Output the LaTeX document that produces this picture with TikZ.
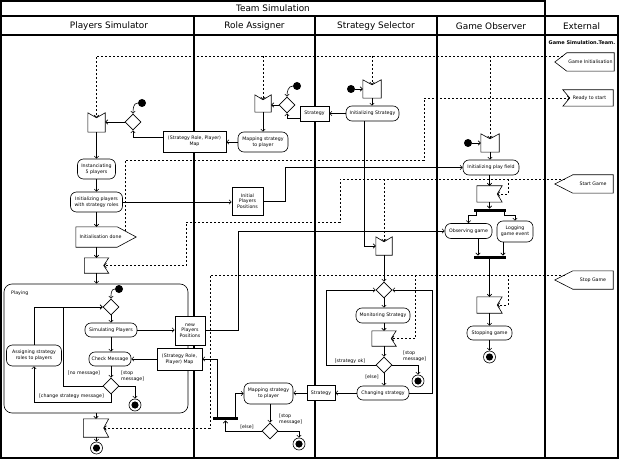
\documentclass[tikz,border=0pt]{standalone}
\usepackage{fontspec}
\setmainfont{DejaVu Sans}
\usetikzlibrary{arrows.meta,calc,shapes.geometric}
\newcommand\smfnt{\fontsize{4.7}{5.6}\selectfont}
\newcommand\ttlfnt{\fontsize{8.9}{10}\selectfont}
\newcommand\accTop[2][5]{\draw[shp] (#2.north west) -- ($(#2.north)+(0,#1)$) coordinate (#2-n) -- (#2.north east) -- (#2.south east) -- (#2.south west) -- cycle;}
\newcommand\accRight[2][5]{\draw[shp] (#2.north west) -- (#2.north east) -- ($(#2.east)+(-#1,0)$) coordinate (#2-n) -- (#2.south east) -- (#2.south west) -- cycle;}
\newcommand\accLeft[2][7]{\draw[shp] (#2.north west) -- (#2.north east) -- (#2.south east) -- (#2.south west) -- ($(#2.west)+(#1,0)$) coordinate (#2-n) -- cycle;}
\newcommand\sendLeft[2][18]{\draw[shp] (#2.north west) -- (#2.north east) -- (#2.south east) -- (#2.south west) -- ($(#2.west)+(-#1,0)$) coordinate (#2-t) -- cycle;}
\newcommand\sendRight[2][18]{\draw[shp] (#2.north west) -- (#2.north east) -- ($(#2.east)+(#1,0)$) coordinate (#2-t) -- (#2.south east) -- (#2.south west) -- cycle;}
\begin{document}
\begin{tikzpicture}[x=1pt,y=-1pt,
  shp/.style={line width=0.6pt},
  act/.style={draw, fill=white, line width=0.6pt, rounded corners=6pt, align=center, inner sep=0pt, font=\smfnt},
  obj/.style={draw, fill=white, line width=0.6pt, align=center, inner sep=0pt, font=\smfnt},
  sgn/.style={inner sep=0pt, font=\smfnt, align=center},
  dec/.style={draw, fill=white, line width=0.6pt, diamond, inner sep=0pt, minimum width=16pt, minimum height=16pt},
  ini/.style={circle, fill, inner sep=0pt, minimum size=8pt},
  fin/.style={circle, draw, line width=0.6pt, inner sep=0pt, minimum size=12pt, path picture={\fill (path picture bounding box.center) circle (3.6pt);}},
  bar/.style={fill, inner sep=0pt, minimum height=3.5pt},
  flow/.style={line width=0.6pt, -{Straight Barb[length=2.2pt,width=4.4pt]}},
  sig/.style={flow, dash pattern=on 2pt off 2pt},
  guard/.style={font=\smfnt, inner sep=0pt, align=left},
  frame/.style={line width=1.2pt},
  ttl/.style={font=\ttlfnt, inner sep=0pt}
]
\fill[white] (0,0) rectangle (620,462);
\useasboundingbox (0,0) rectangle (620,462);

% frame
\draw[frame] (1,1) rectangle (545,458);
\draw[frame] (1,16) -- (618,16);
\draw[frame] (1,35) -- (618,35);
\draw[frame] (545,16) -- (618,16) -- (618,458) -- (545,458);
\foreach \x in {194,315,437} \draw[frame] (\x,16) -- (\x,458);
\node[ttl] (tTeam) at (273,8.5) {Team Simulation};
\node[ttl] (tPS) at (109,26) {Players Simulator};
\node[ttl] (tRA) at (254.5,26) {Role Assigner};
\node[ttl] (tSS) at (376,26) {Strategy Selector};
\node[ttl] (tGO) at (491,26) {Game Observer};
\node[ttl] (tEx) at (581.5,26) {External};

% Players Simulator
\node[ini] (psIni) at (142,103) {};
\node[dec] (psDec) at (133,122) {};
\node[sgn, minimum width=17pt, minimum height=19pt] (psAcc) at (96.5,122.5) {}; \accTop{psAcc}
\node[act, minimum width=38pt, minimum height=20pt] (psInst) at (96.5,169) {Instanciating\\5 players};
\node[act, minimum width=52pt, minimum height=20pt] (psInitP) at (96.5,202) {Initializing players\\with strategy roles};
\node[sgn, minimum width=41pt, minimum height=20pt, label={[font=\smfnt,xshift=4pt]center:Initialisation done}] (psDone) at (96.5,237) {}; \sendRight[19]{psDone}
\node[sgn, minimum width=24pt, minimum height=15pt] (psAcc2) at (96.5,265.5) {}; \accRight{psAcc2}
\node[draw, line width=0.6pt, rounded corners=8pt, minimum width=184pt, minimum height=129pt, inner sep=0pt] (playing) at (96,348.5) {};
\node[guard, anchor=west] (tPlaying) at (11,293) {Playing};
\node[ini] (plIni) at (119,289) {};
\node[dec] (plDec1) at (111,307) {};
\node[act, minimum width=52pt, minimum height=14pt] (plSim) at (111,330) {Simulating Players};
\node[act, minimum width=42pt, minimum height=14pt] (plChk) at (110,359) {Check Message};
\node[dec] (plDec2) at (111,386) {};
\node[fin] (plFin) at (135,405) {};
\node[act, minimum width=55pt, minimum height=21pt] (plAssign) at (34,355.5) {Assigning strategy\\roles to players};
\node[obj, minimum width=30pt, minimum height=29pt] (newPos) at (190,330.5) {new\\Players\\Positions};
\node[obj, minimum width=45pt, minimum height=22pt] (map2) at (179.5,359) {(Strategy Role,\\Player) Map};
\node[sgn, minimum width=25pt, minimum height=18pt] (psAcc3) at (96,428) {}; \accRight{psAcc3}
\node[fin] (psFin) at (96.5,448) {};

% Role Assigner
\node[obj, minimum width=63pt, minimum height=21pt] (map1) at (194.5,141.5) {(Strategy Role, Player)\\Map};
\node[act, minimum width=50pt, minimum height=20pt] (raMap) at (263,142) {Mapping strategy\\to player};
\node[sgn, minimum width=16pt, minimum height=17pt] (raAcc) at (263,103.5) {}; \accTop{raAcc}
\node[dec] (raDec) at (287,105) {};
\node[ini] (raIni) at (297,86) {};
\node[obj, minimum width=29pt, minimum height=15pt] (strat1) at (314.5,113.5) {Strategy};
\node[obj, minimum width=31pt, minimum height=28pt] (initPos) at (247.5,201) {Initial\\Players\\Positions};
\node[bar, minimum width=25pt] (bar2) at (225.5,418.5) {};
\node[act, minimum width=49pt, minimum height=21pt] (raMap2) at (268.5,393.5) {Mapping strategy\\to player};
\node[dec] (raDec2) at (270,431) {};
\node[fin] (raFin) at (299,444) {};
\node[obj, minimum width=28pt, minimum height=15pt] (strat2) at (321,393) {Strategy};

% Strategy Selector
\node[ini] (ssIni) at (351,89) {};
\node[sgn, minimum width=18pt, minimum height=18pt] (ssAcc) at (372,89) {}; \accTop{ssAcc}
\node[act, minimum width=53pt, minimum height=15pt] (ssInit) at (372.5,113.5) {Initializing Strategy};
\node[sgn, minimum width=16pt, minimum height=18pt] (ssAcc2) at (384,246) {}; \accTop{ssAcc2}
\node[dec] (ssDec1) at (384,290) {};
\node[act, minimum width=54pt, minimum height=15pt] (ssMon) at (383,315.5) {Monitoring Strategy};
\node[sgn, minimum width=24pt, minimum height=15pt] (ssAcc3) at (384,338.5) {}; \accRight{ssAcc3}
\node[dec] (ssDec2) at (384,365) {};
\node[fin] (ssFin) at (418,381) {};
\node[act, minimum width=52pt, minimum height=14pt] (ssChg) at (383,393) {Changing strategy};

% Game Observer
\node[ini] (goIni) at (468,143) {};
\node[sgn, minimum width=18pt, minimum height=18pt] (goAcc) at (490,143) {}; \accTop{goAcc}
\node[act, minimum width=56pt, minimum height=15pt] (goInitPF) at (491,167.5) {Initializing play field};
\node[sgn, minimum width=25pt, minimum height=16pt] (goAcc2) at (489.5,194) {}; \accRight{goAcc2}
\node[bar, minimum width=32pt] (fork) at (490,210.5) {};
\node[act, minimum width=47pt, minimum height=15pt] (goObs) at (468.5,231) {Observing game};
\node[act, minimum width=36pt, minimum height=21pt] (goLog) at (515,231.5) {Logging\\game event};
\node[bar, minimum width=32pt] (join) at (490,257.5) {};
\node[sgn, minimum width=25pt, minimum height=16pt] (goAcc3) at (489.5,305) {}; \accRight{goAcc3}
\node[act, minimum width=45pt, minimum height=14pt] (goStop) at (489.5,333) {Stopping game};
\node[fin] (goFin) at (489.5,357) {};

% External
\node[font=\fontsize{5}{6}\selectfont\bfseries, inner sep=0pt] (tGST) at (582,43) {Game Simulation.Team.};
\node[sgn, minimum width=47pt, minimum height=18pt] (gameInit) at (590.5,62) {Game Initialisation}; \sendLeft[12]{gameInit}
\node[sgn, minimum width=50pt, minimum height=16pt] (ready) at (588,98) {\hspace*{3pt}Ready to start}; \accLeft[7]{ready}
\node[sgn, minimum width=40pt, minimum height=18pt] (startG) at (593,184) {Start Game}; \sendLeft[18]{startG}
\node[sgn, minimum width=40pt, minimum height=18pt] (stopG) at (593,280) {Stop Game}; \sendLeft[18]{stopG}

% signal connectors (dashed)
\coordinate (giE) at ($(gameInit.north west)!0.33!(gameInit-t)$);
\draw[sig] (giE) -| (psAcc-n);
\draw[sig] (raAcc-n |- giE) -- (raAcc-n);
\draw[sig] (ssAcc-n |- giE) -- (ssAcc-n);
\draw[sig] (goAcc-n |- giE) -- (goAcc-n);

\coordinate (pdE) at ($(psDone.north east)!0.44!(psDone-t)$);
\coordinate (rA) at (424,160);
\draw[sig] (pdE) |- (rA) |- (ready-n);

\coordinate (sgE) at ($(startG.north west)!0.44!(startG-t)$);
\coordinate (sA) at (340,222);
\coordinate (sB) at (186,222);
\draw[sig] (sgE) -| (sA) -- (sB) |- (psAcc2-n);
\draw[sig] (ssAcc2-n |- sgE) -- (ssAcc2-n);
\coordinate (sC) at (508,179);
\draw[sig] (sC) |- (goAcc2-n);

\coordinate (stE) at ($(stopG.north west)!0.44!(stopG-t)$);
\coordinate (tA) at (210,428);
\draw[sig] (stE) -| (tA) -- (psAcc3-n);
\coordinate (tB) at (415,275);
\draw[sig] (tB) |- (ssAcc3-n);
\coordinate (tC) at (508,275);
\draw[sig] (tC) |- (goAcc3-n);

% Players Simulator flows
\draw[flow] (psIni.west) to[out=180,in=90] (psDec.north);
\draw[flow] (psDec.west) -- (psDec.west -| psAcc.east);
\coordinate (m1) at ($(map1.west)+(0,-4.5)$);
\draw[flow] (m1) -| (psDec.south);
\draw[flow] (raMap.west) -- (raMap.west -| map1.east);
\draw[flow] (psAcc.south) -- (psInst.north);
\draw[flow] (psInst.south) -- (psInitP.north);
\draw[flow] (psInitP.south) -- (psInitP.south |- psDone.north);
\draw[flow] (psDone.south -| psAcc2.north) -- (psAcc2.north);
\draw[flow] (psAcc2.south) -- (psAcc2.south |- playing.north);
\draw[flow] (psAcc3.north |- playing.south) -- (psAcc3.north);
\draw[flow] (psAcc3.south) -- (psAcc3.south -| psFin.north) -- (psFin.north);
\draw[flow] (psInitP.east) -- (psInitP.east -| initPos.west);
\draw[flow] (initPos.east) -- ++(22,0) |- (goInitPF.west);

\draw[flow] (plIni.west) to[out=180,in=90] (plDec1.north);
\draw[flow] (plDec1.south) -- (plSim.north);
\draw[flow] (plSim.south) -- (plSim.south |- plChk.north);
\draw[flow] (plDec2.north |- plChk.south) -- (plDec2.north);
\draw[flow] (plDec2.east) -| (plFin.north);
\draw[flow] (plDec2.west) -- ++(-39,0) |- (plDec1.west);
\draw[flow] (plDec2.south) -- ++(0,8) -| (plAssign.south);
\draw[flow] (plAssign.north) |- (plDec1.west);
\draw[flow] (plSim.east) -- (plSim.east -| newPos.west);
\draw[flow] (newPos.east) -- ++(33,0) |- (goObs.west);
\draw[flow] (map2.west) -- (map2.west -| plChk.east);

% Role Assigner flows
\draw[flow] (raIni.west) to[out=180,in=90] (raDec.north);
\draw[flow] (raDec.west) -- (raDec.west -| raAcc.east);
\coordinate (s1) at ($(strat1.west)+(0,4.5)$);
\draw[flow] (s1) -| (raDec.south);
\draw[flow] (raAcc.south) -- (raMap.north);
\draw[flow] (raDec2.north |- raMap2.south) -- (raDec2.north);
\draw[flow] (raDec2.east) -| (raFin.north);
\draw[flow] (raDec2.west) -| (bar2.south);
\coordinate (b2r) at ($(bar2.north)+(9.5,0)$);
\draw[flow] (b2r) |- (raMap2.west);
\coordinate (b2l) at ($(bar2.north)+(-8.5,0)$);
\draw[flow] (b2l) |- (map2.east);
\draw[flow] (strat2.west) -- (strat2.west -| raMap2.east);

% Strategy Selector flows
\draw[flow] (ssIni.east) -- (ssAcc.west);
\draw[flow] (ssAcc.south) -- (ssAcc.south |- ssInit.north);
\draw[flow] (ssInit.west) -- (ssInit.west -| strat1.east);
\coordinate (s2) at ($(ssInit.south)+(-8.5,0)$);
\draw[flow] (s2) |- (ssAcc2.west);
\draw[flow] (ssAcc2.south) -- (ssDec1.north);
\draw[flow] (ssDec1.south) -- (ssDec1.south |- ssMon.north);
\draw[flow] (ssMon.south -| ssAcc3.north) -- (ssAcc3.north);
\draw[flow] (ssAcc3.south) -- (ssDec2.north);
\draw[flow] (ssDec2.south) -- (ssDec2.south |- ssChg.north);
\draw[flow] (ssDec2.east) -| (ssFin.north);
\draw[flow] (ssDec2.west) -- ++(-49,0) |- (ssDec1.west);
\draw[flow] (ssChg.east) -- ++(23,0) |- (ssDec1.east);
\draw[flow] (ssChg.west) -- (ssChg.west -| strat2.east);

% Game Observer flows
\draw[flow] (goIni.east) -- (goAcc.west);
\draw[flow] (goAcc.south) -- (goAcc.south |- goInitPF.north);
\draw[flow] (goInitPF.south -| goAcc2.north) -- (goAcc2.north);
\draw[flow] (goAcc2.south) -- (goAcc2.south |- fork.north);
\coordinate (fl) at ($(fork.south)+(-14,0)$);
\draw[flow] (fl) -- ++(0,3) -| (goObs.north);
\coordinate (fr) at ($(fork.south)+(14,0)$);
\draw[flow] (fr) -- ++(0,3) -| (goLog.north);
\coordinate (oj) at ($(goObs.south)+(9.5,0)$);
\draw[flow] (oj) -- (oj |- join.north);
\coordinate (lj) at ($(goLog.south)+(-12,0)$);
\draw[flow] (lj) -- (lj |- join.north);
\draw[flow] (join.south -| goAcc3.north) -- (goAcc3.north);
\draw[flow] (goAcc3.south) -- (goStop.north);
\draw[flow] (goStop.south) -- (goFin.north);

% guards
\node[guard] (gNoMsg) at (84,373.5) {[no message]};
\node[guard, anchor=north west] (gStop1) at (121,371) {[stop\\message]};
\node[guard] (gChange) at (71.5,396.5) {[change strategy message]};
\node[guard] (gElse1) at (247,427) {[else]};
\node[guard, anchor=north west] (gStop2) at (279,414) {[stop\\message]};
\node[guard] (gOk) at (350,361) {[strategy ok]};
\node[guard, anchor=north west] (gStop3) at (403,351) {[stop\\message]};
\node[guard] (gElse2) at (372,377) {[else]};
\end{tikzpicture}
\end{document}
